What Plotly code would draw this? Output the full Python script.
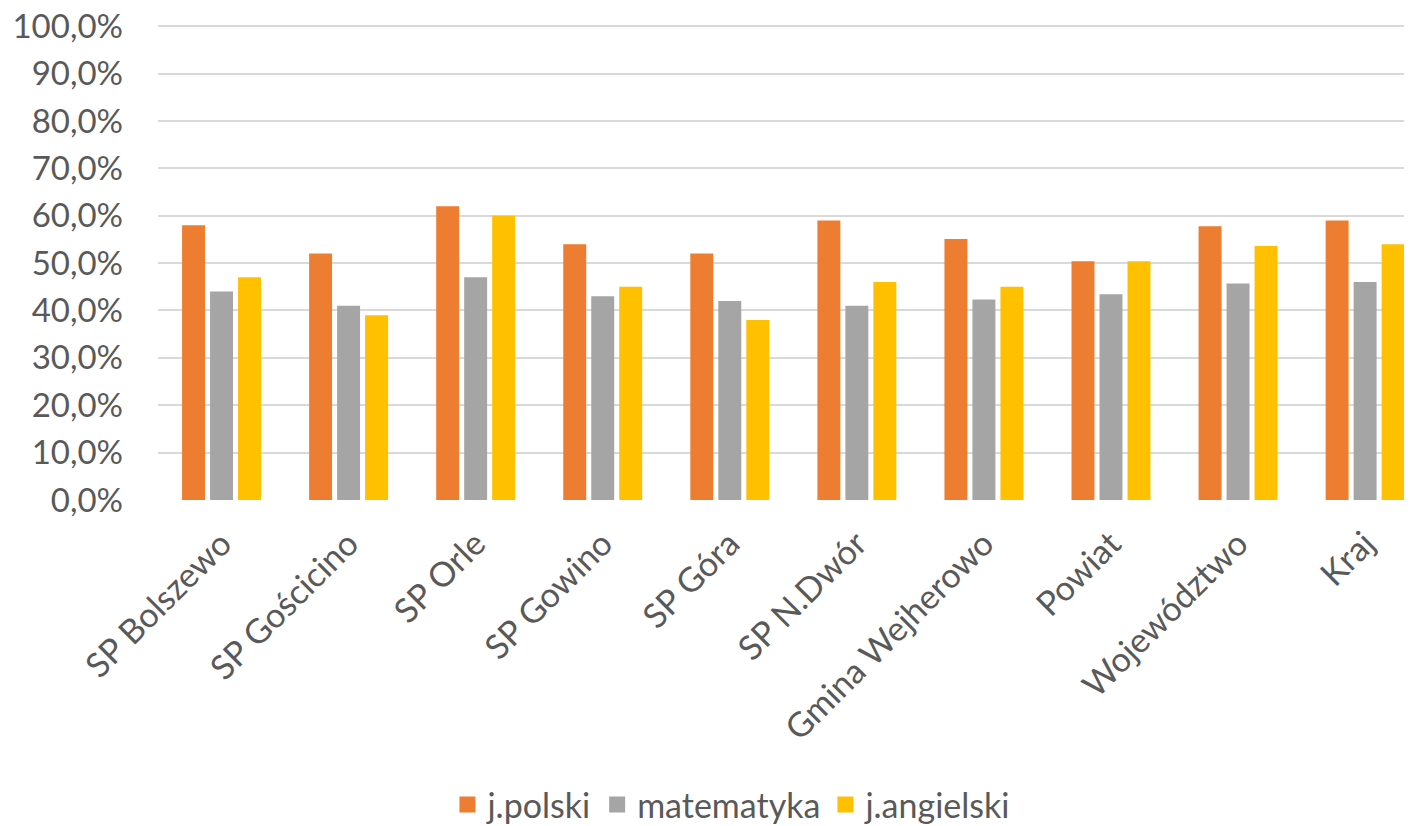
import plotly.graph_objects as go

categories = ["SP Bolszewo", "SP Gościcino", "SP Orle", "SP Gowino", "SP Góra",
              "SP N.Dwór", "Gmina Wejherowo", "Powiat", "Województwo", "Kraj"]
j_polski = [58.0, 52.0, 62.0, 54.0, 52.0, 59.0, 55.1, 50.4, 57.8, 59.0]
matematyka = [44.0, 41.0, 47.0, 43.0, 42.0, 41.0, 42.3, 43.4, 45.7, 46.0]
j_angielski = [47.0, 39.0, 60.0, 45.0, 38.0, 46.0, 45.0, 50.4, 53.6, 54.0]
y_ticks = [0, 10, 20, 30, 40, 50, 60, 70, 80, 90, 100]
y_tick_labels = [f"{v:.1f}%".replace(".", ",") for v in y_ticks]

series = [("j.polski", j_polski, "#ED7D31"),
          ("matematyka", matematyka, "#A5A5A5"),
          ("j.angielski", j_angielski, "#FFC000")]

FONT = "Lato, 'Open Sans', sans-serif"
TXT = "#595959"
FS = 33

fig = go.Figure()
for name, vals, col in series:
    fig.add_trace(go.Bar(x=categories, y=vals, name=name, marker_color=col,
                         marker_line_width=0, showlegend=False, legendgroup=name))
# legend entries with larger square swatches
for name, vals, col in series:
    fig.add_trace(go.Scatter(x=[None], y=[None], mode="markers", name=name,
                             legendgroup=name,
                             marker=dict(symbol="square", size=20, color=col)))

# page body has an 8px default margin, so the figure is offset by 8px
fig.update_layout(
    width=1404, height=830,
    margin=dict(l=150, r=0, t=17, b=338, autoexpand=False),
    paper_bgcolor="white", plot_bgcolor="white",
    barmode="group", bargap=0.339, bargroupgap=0.18,
    font=dict(family=FONT, color=TXT, size=FS),
    showlegend=True,
    legend=dict(orientation="h", x=0.4577, xanchor="center", y=-0.642, yanchor="middle",
                yref="paper", font=dict(size=34, color=TXT), traceorder="normal",
                itemwidth=30),
)
fig.update_xaxes(range=[-0.5, 9.369], tickangle=-45, showgrid=False, showline=False,
                 ticks="", tickfont=dict(size=34, color=TXT), automargin=False,
                 ticklabelstandoff=16)
fig.update_yaxes(range=[0, 100.25], tickvals=y_ticks, ticktext=y_tick_labels,
                 showgrid=True, gridcolor="#D9D9D9", gridwidth=1.5, zeroline=False,
                 showline=False, ticks="", ticklabelstandoff=34,
                 ticklabeloverflow="allow",
                 tickfont=dict(size=FS, color=TXT), automargin=False)

fig.write_html("out.html")
